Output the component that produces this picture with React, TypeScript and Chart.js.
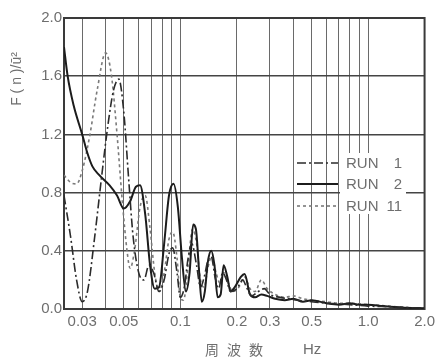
import React, { useEffect, useRef } from "react";
import { Chart, registerables } from "chart.js";
Chart.register(...registerables);

// ---- data ----
const run1Freq = [0.024, 0.026, 0.028, 0.03, 0.032, 0.035, 0.038, 0.041, 0.044, 0.047, 0.05, 0.053, 0.056, 0.06, 0.064, 0.068, 0.072, 0.077, 0.082, 0.087, 0.091, 0.096, 0.1, 0.105, 0.11, 0.115, 0.122, 0.128, 0.134, 0.14, 0.146, 0.153, 0.16, 0.168, 0.176, 0.185, 0.2, 0.215, 0.225, 0.24, 0.26, 0.28, 0.3, 0.34, 0.38, 0.42, 0.5, 0.6, 0.7, 0.8, 1.0, 1.3, 1.6, 2.0];
const run1Vals = [0.78, 0.5, 0.2, 0.05, 0.12, 0.5, 0.9, 1.25, 1.5, 1.58, 1.35, 0.9, 0.5, 0.25, 0.2, 0.3, 0.25, 0.12, 0.2, 0.38, 0.42, 0.25, 0.08, 0.15, 0.35, 0.45, 0.3, 0.15, 0.22, 0.33, 0.36, 0.22, 0.14, 0.25, 0.2, 0.12, 0.14, 0.2, 0.15, 0.09, 0.12, 0.14, 0.1, 0.08, 0.07, 0.06, 0.05, 0.04, 0.035, 0.03, 0.02, 0.015, 0.01, 0.005];

const run2Freq = [0.024, 0.0251, 0.027, 0.03, 0.032, 0.034, 0.037, 0.042, 0.046, 0.05, 0.054, 0.058, 0.061, 0.065, 0.069, 0.073, 0.077, 0.082, 0.087, 0.092, 0.097, 0.102, 0.107, 0.112, 0.117, 0.121, 0.126, 0.13, 0.135, 0.14, 0.146, 0.152, 0.158, 0.164, 0.17, 0.178, 0.185, 0.195, 0.21, 0.22, 0.235, 0.25, 0.27, 0.29, 0.32, 0.36, 0.4, 0.45, 0.5, 0.6, 0.7, 0.8, 0.9, 1.0, 1.2, 1.5, 2.0];
const run2Vals = [1.8, 1.6, 1.4, 1.2, 1.07, 0.98, 0.92, 0.85, 0.78, 0.69, 0.74, 0.84, 0.85, 0.65, 0.3, 0.14, 0.15, 0.45, 0.78, 0.86, 0.7, 0.35, 0.12, 0.25, 0.58, 0.55, 0.25, 0.05, 0.12, 0.32, 0.4, 0.3, 0.08, 0.1, 0.3, 0.22, 0.12, 0.15, 0.22, 0.24, 0.1, 0.08, 0.1, 0.09, 0.07, 0.06, 0.07, 0.05, 0.06, 0.04, 0.03, 0.04, 0.03, 0.03, 0.02, 0.01, 0.005];

const run11Freq = [0.024, 0.026, 0.028, 0.03, 0.033, 0.036, 0.04, 0.043, 0.046, 0.049, 0.052, 0.054, 0.057, 0.061, 0.065, 0.069, 0.073, 0.077, 0.082, 0.087, 0.091, 0.096, 0.1, 0.104, 0.11, 0.116, 0.122, 0.128, 0.134, 0.14, 0.147, 0.155, 0.162, 0.17, 0.18, 0.19, 0.205, 0.22, 0.235, 0.25, 0.27, 0.29, 0.32, 0.36, 0.4, 0.45, 0.5, 0.6, 0.7, 0.8, 0.9, 1.0, 1.3, 1.6, 2.0];
const run11Vals = [0.92, 0.87, 0.86, 0.95, 1.2, 1.5, 1.76, 1.6, 1.2, 0.75, 0.4, 0.28, 0.4, 0.7, 0.78, 0.55, 0.25, 0.12, 0.25, 0.48, 0.53, 0.35, 0.08, 0.06, 0.3, 0.55, 0.45, 0.2, 0.15, 0.28, 0.36, 0.25, 0.18, 0.25, 0.18, 0.12, 0.15, 0.22, 0.14, 0.12, 0.2, 0.14, 0.1, 0.08, 0.09, 0.07, 0.06, 0.05, 0.04, 0.04, 0.035, 0.03, 0.02, 0.01, 0.005];

const seriesNames = ["RUN 1", "RUN 2", "RUN 11"];
const legendWords = ["RUN", "RUN", "RUN"];
const legendNums = ["1", "2", "11"];
const yTickValues = [0, 0.4, 0.8, 1.2, 1.6, 2.0];
const xGridValues = [0.03, 0.04, 0.05, 0.06, 0.07, 0.08, 0.09, 0.1, 0.2, 0.3, 0.4, 0.5, 0.6, 0.7, 0.8, 0.9, 1.0, 2.0];
const xLabelValues = [0.03, 0.05, 0.1, 0.2, 0.3, 0.5, 1.0, 2.0];
const xTickLabels = ["0.03", "0.05", "0.1", "0.2", "0.3", "0.5", "1.0", "2.0"];
const yTitle = "F ( n )/ū²";
const xTitle = "周波数";
const xUnit = "Hz";

const TEXT = "#6e6e6e";
const FONT = "'Liberation Sans', Arial, sans-serif";

const framePlugin = {
  id: "frame",
  beforeDatasetsDraw(chart: any) {
    const { ctx, chartArea: a } = chart;
    ctx.save();
    ctx.strokeStyle = "#3a3a3a";
    ctx.lineWidth = 2;
    ctx.strokeRect(a.left, a.top, a.right - a.left, a.bottom - a.top);
    ctx.restore();
  },
};

const legendPlugin = {
  id: "customLegend",
  afterDatasetsDraw(chart: any) {
    const { ctx } = chart;
    const x0 = 297, x1 = 338, tx = 346, nx = 402;
    const rows = [163, 184, 206];
    ctx.save();
    ctx.fillStyle = "#ffffff";
    ctx.fillRect(340, 153, 66, 61);
    chart.data.datasets.forEach((ds: any, i: number) => {
      const y = rows[i];
      ctx.strokeStyle = ds.borderColor;
      ctx.lineWidth = ds.borderWidth;
      ctx.setLineDash(ds.borderDash || []);
      ctx.beginPath();
      ctx.moveTo(x0, y);
      ctx.lineTo(x1, y);
      ctx.stroke();
      ctx.setLineDash([]);
      ctx.fillStyle = TEXT;
      ctx.font = `15px ${FONT}`;
      ctx.textBaseline = "middle";
      ctx.textAlign = "left";
      ctx.fillText(legendWords[i], tx, y + 1);
      ctx.textAlign = "right";
      ctx.fillText(legendNums[i], nx, y + 1);
    });
    ctx.restore();
  },
};

const titlePlugin = {
  id: "titles",
  afterDraw(chart: any) {
    const { ctx } = chart;
    ctx.save();
    ctx.fillStyle = TEXT;
    ctx.textBaseline = "middle";
    ctx.translate(17, 79);
    ctx.rotate(-Math.PI / 2);
    ctx.textAlign = "center";
    ctx.font = `14px ${FONT}`;
    ctx.fillText(yTitle, 0, 0);
    ctx.restore();
    ctx.save();
    ctx.fillStyle = TEXT;
    ctx.textBaseline = "middle";
    ctx.textAlign = "left";
    ctx.font = `14px 'Noto Sans CJK JP', sans-serif`;
    (ctx as any).letterSpacing = "8px";
    ctx.fillText(xTitle, 205, 350);
    (ctx as any).letterSpacing = "0px";
    ctx.font = `15px ${FONT}`;
    ctx.fillText(xUnit, 303, 350);
    ctx.restore();
  },
};

export default function App() {
  const ref = useRef<HTMLCanvasElement>(null);
  useEffect(() => {
    document.body.style.margin = "0";
    const canvas = ref.current!;
    const mk = (fs: number[], vs: number[]) => fs.map((f, i) => ({ x: f, y: vs[i] }));
    const chart = new Chart(canvas, {
      type: "line",
      data: {
        datasets: [
          { label: seriesNames[0], data: mk(run1Freq, run1Vals), borderColor: "#2b2b2b", borderWidth: 1.6, borderDash: [9, 3, 2, 3], pointRadius: 0, cubicInterpolationMode: "monotone", fill: false },
          { label: seriesNames[1], data: mk(run2Freq, run2Vals), borderColor: "#1c1c1c", borderWidth: 2, pointRadius: 0, cubicInterpolationMode: "monotone", fill: false },
          { label: seriesNames[2], data: mk(run11Freq, run11Vals), borderColor: "#7a7a7a", borderWidth: 1.6, borderDash: [3, 3], pointRadius: 0, cubicInterpolationMode: "monotone", fill: false },
        ] as any,
      },
      options: {
        responsive: false,
        animation: false,
        layout: { padding: { left: 0, right: 10, top: 18, bottom: 0 } },
        plugins: { legend: { display: false }, tooltip: { enabled: false } },
        scales: {
          x: {
            type: "logarithmic",
            min: 0.024,
            max: 2,
            afterBuildTicks: (s: any) => { s.ticks = xGridValues.map((v) => ({ value: v })); },
            afterFit: (s: any) => { s.height = 51; },
            ticks: {
              autoSkip: false,
              maxRotation: 0,
              padding: 4,
              color: TEXT,
              font: { family: FONT, size: 15 },
              callback: (value: any) => {
                const i = xLabelValues.findIndex((v) => Math.abs(v - Number(value)) < 1e-9);
                return i >= 0 ? xTickLabels[i] : "";
              },
            },
            grid: { color: "#6a6a6a", lineWidth: 1, drawTicks: false },
            border: { color: "#3a3a3a", width: 2 },
          },
          y: {
            min: 0,
            max: 2,
            afterBuildTicks: (s: any) => { s.ticks = yTickValues.map((v) => ({ value: v })); },
            afterFit: (s: any) => { s.width = 64; },
            ticks: {
              padding: 2,
              color: TEXT,
              font: { family: FONT, size: 15 },
              callback: (value: any) => Number(value).toFixed(1),
            },
            grid: { color: "#444", lineWidth: 1.4, drawTicks: false },
            border: { color: "#3a3a3a", width: 2 },
          },
        },
      } as any,
      plugins: [framePlugin, legendPlugin, titlePlugin],
    });
    return () => chart.destroy();
  }, []);
  return <canvas ref={ref} width={439} height={360} style={{ display: "block" }} />;
}
